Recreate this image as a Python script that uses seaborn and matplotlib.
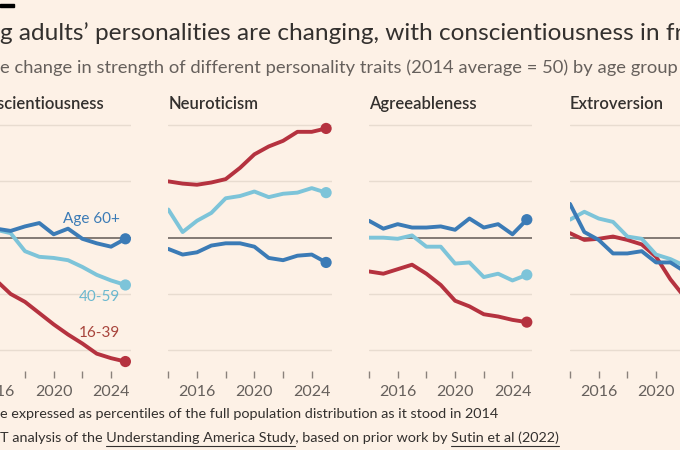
import matplotlib
matplotlib.use("Agg")
import matplotlib.pyplot as plt
import seaborn as sns
import pandas as pd

# data (2014 average = 50)
years = list(range(2014, 2026))
traits = ["Conscientiousness", "Neuroticism", "Agreeableness", "Extroversion"]
groups = ["16-39", "40-59", "60+"]

consc_16_39 = [49.6, 48.0, 46.2, 45.0, 44.3, 43.3, 42.3, 41.4, 40.6, 39.7, 39.3, 39.0]
consc_40_59 = [50.1, 50.5, 50.7, 50.4, 48.8, 48.3, 48.2, 48.0, 47.4, 46.7, 46.2, 45.8]
consc_60 = [50.3, 50.6, 50.8, 50.6, 51.0, 51.3, 50.3, 50.8, 49.9, 49.5, 49.2, 49.9]

neuro_16_39 = [55.0, 54.8, 54.7, 54.9, 55.2, 56.2, 57.4, 58.1, 58.6, 59.4, 59.4, 59.7]
neuro_40_59 = [52.5, 50.5, 51.5, 52.2, 53.5, 53.7, 54.1, 53.6, 53.9, 54.0, 54.4, 54.0]
neuro_60 = [49.0, 48.5, 48.7, 49.3, 49.5, 49.5, 49.2, 48.2, 48.0, 48.4, 48.5, 47.8]

agree_16_39 = [47.0, 46.8, 47.2, 47.6, 46.8, 45.8, 44.4, 43.9, 43.2, 43.0, 42.7, 42.5]
agree_40_59 = [50.0, 50.0, 49.9, 50.2, 49.2, 49.2, 47.7, 47.8, 46.5, 46.8, 46.2, 46.7]
agree_60 = [51.5, 50.8, 51.2, 50.9, 50.9, 51.0, 50.7, 51.7, 50.9, 51.2, 50.3, 51.6]

extra_16_39 = [50.4, 49.8, 49.9, 50.1, 49.8, 49.4, 48.3, 46.3, 44.7, 43.6, 42.8, 42.1]
extra_40_59 = [51.6, 52.3, 51.7, 51.4, 50.1, 49.9, 48.5, 48.1, 47.5, 47.2, 46.9, 46.7]
extra_60 = [53.0, 50.5, 49.8, 48.6, 48.6, 48.8, 47.8, 47.8, 47.0, 46.8, 46.6, 46.5]

series = {
    "Conscientiousness": [consc_16_39, consc_40_59, consc_60],
    "Neuroticism": [neuro_16_39, neuro_40_59, neuro_60],
    "Agreeableness": [agree_16_39, agree_40_59, agree_60],
    "Extroversion": [extra_16_39, extra_40_59, extra_60],
}

rows = []
for t in traits:
    for g, vals in zip(groups, series[t]):
        for y, v in zip(years, vals):
            rows.append({"year": y, "trait": t, "group": g, "value": v})
df = pd.DataFrame(rows)

# FT-ish colours
bg = "#FDF1E6"
palette = {"16-39": "#B5323F", "40-59": "#7DC4D9", "60+": "#3B7BB6"}
label_colors = {"16-39": "#A8443C", "40-59": "#6BB8CF", "60+": "#3B7BB6"}
grid_col = "#E8DCD0"
text_grey = "#66605C"
dark = "#33302E"

sns.set_style("white", {"axes.facecolor": bg, "figure.facecolor": bg})
plt.rcParams["font.family"] = ["Lato", "DejaVu Sans"]

fig = plt.figure(figsize=(6.8, 4.5), dpi=100)
fig.patch.set_facecolor(bg)

W, H = 680.0, 450.0
ax_lefts = [-32.4, 168.3, 369.0, 570.0]
ax_top, ax_bot, ax_w = 120.0, 371.0, 163.4

for i, t in enumerate(traits):
    ax = fig.add_axes([ax_lefts[i] / W, 1 - ax_bot / H, ax_w / W, (ax_bot - ax_top) / H])
    ax.set_facecolor(bg)
    for gv in [40, 45, 55, 60]:
        ax.axhline(gv, color=grid_col, lw=1.0, zorder=0)
    ax.axhline(50, color="#6E6560", lw=1.2, zorder=1)

    sub = df[df["trait"] == t]
    sns.lineplot(data=sub, x="year", y="value", hue="group", hue_order=groups,
                 palette=palette, linewidth=2.8, legend=False, ax=ax, zorder=3)
    last = sub[sub["year"] == years[-1]]
    sns.scatterplot(data=last, x="year", y="value", hue="group", hue_order=groups,
                    palette=palette, s=65, edgecolor="none", legend=False, ax=ax,
                    zorder=4, clip_on=False)

    ax.set_xlim(2014, 2025.39)
    ax.set_ylim(38.16, 60.45)
    ax.set_xticks(range(2014, 2026, 2))
    ax.set_xticklabels(["" if y % 4 else str(y) for y in range(2014, 2026, 2)])
    ax.tick_params(axis="x", length=5, width=1, colors="#8A817B", labelcolor=text_grey,
                   labelsize=11.5, pad=5, direction="out")
    ax.xaxis.set_ticks_position("bottom")
    ax.set_yticks([])
    ax.set_xlabel("")
    ax.set_ylabel("")
    for s in ax.spines.values():
        s.set_visible(False)
    ax.text(0, 1.0 + 16 / (ax_bot - ax_top), t, transform=ax.transAxes,
            ha="left", va="center", fontsize=12, color=dark, fontweight="semibold")

    if i == 0:
        ax.text(2024.62, 51.66, "Age 60+", color=label_colors["60+"], ha="right",
                va="center", fontsize=11)
        ax.text(2024.62, 44.76, "40-59", color=label_colors["40-59"], ha="right",
                va="center", fontsize=11)
        ax.text(2024.62, 41.51, "16-39", color=label_colors["16-39"], ha="right",
                va="center", fontsize=11)

# header
fig.patches.append(plt.Rectangle((0, 1 - 7 / H), 14 / W, 3.5 / H, transform=fig.transFigure,
                                 color="black", zorder=5))
fig.text(0, 1 - 33 / H, "g adults\u2019 personalities are changing, with conscientiousness in fr",
         ha="left", va="center", fontsize=17.6, color=dark)
fig.text(0, 1 - 68 / H, "e change in strength of different personality traits (2014 average = 50) by age group",
         ha="left", va="center", fontsize=13.2, color=text_grey)

# footnotes
note1 = "e expressed as percentiles of the full population distribution as it stood in 2014"
pre2 = "T analysis of the "
link1 = "Understanding America Study"
mid2 = ", based on prior work by "
link2 = "Sutin et al (2022)"
fs_note = 10.4
fig.text(0, 1 - 414 / H, note1, ha="left", va="center", fontsize=fs_note, color=dark)
y2 = 1 - 438 / H
fig.text(0, y2, pre2 + link1 + mid2 + link2, ha="left", va="center", fontsize=fs_note, color=dark)

fig.canvas.draw()
rend = fig.canvas.get_renderer()


def text_w(s):
    tt = fig.text(0, 0, s, fontsize=fs_note)
    w = tt.get_window_extent(rend).width
    tt.remove()
    return w


uy = 1 - 446 / H
for before, link in [(pre2, link1), (pre2 + link1 + mid2, link2)]:
    x1 = text_w(before + link)
    x0 = x1 - text_w(link)
    fig.lines.append(plt.Line2D([x0 / W, x1 / W], [uy, uy], transform=fig.transFigure,
                                color=dark, lw=0.8))

fig.savefig("out.png", dpi=100, facecolor=bg)
